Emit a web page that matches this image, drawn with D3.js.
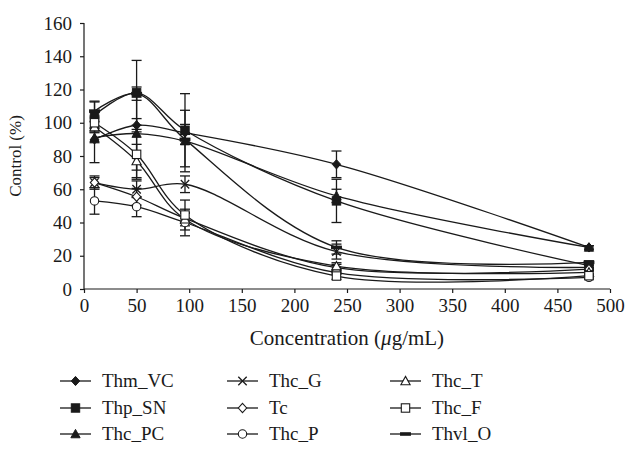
<!DOCTYPE html>
<html>
<head>
<meta charset="utf-8">
<script src="https://cdn.jsdelivr.net/npm/d3@7/dist/d3.min.js"></script>
<style>
  html, body { margin: 0; padding: 0; background: #fff; }
</style>
</head>
<body>
<svg id="chart" width="629" height="449"></svg>
<script>
// ---- data ----
const concentrations = [10, 50, 96, 240, 480];
const seriesNames = ["Thm_VC", "Thp_SN", "Thc_PC", "Thc_G", "Tc", "Thc_P", "Thc_T", "Thc_F", "Thvl_O"];
const markerTypes = ["diamondFilled", "squareFilled", "triangleFilled", "cross", "diamondOpen", "circleOpen", "triangleOpen", "squareOpen", "dash"];
const thmVC  = [90, 98.5, 94, 75, 25];
const thpSN  = [104.5, 118, 95.5, 53, 14];
const thcPC  = [91, 93.5, 89, 56, 25];
const thcG   = [64, 60, 63, 22.5, 13];
const tc     = [64, 55.5, 42.5, 12.8, 12];
const thcP   = [53, 49.5, 40, 9.8, 7];
const thcT   = [97.5, 77, 42, 13.8, 10];
const thcF   = [100, 81, 44.5, 7.8, 8];
const thvlO  = [107, 117.5, 90, 25, 16];
const errVC  = [14, 4, 5, 8, 1];
const errSN  = [8, 19.5, 22, 13, 2];
const errPC  = [3, 22, 18.5, 4, 1];
const errG   = [4, 5, 5, 4.5, 1];
const errTc  = [3, 5, 3, 2, 1];
const errP   = [8, 6, 8, 1, 1];
const errT   = [3, 10, 4, 2, 1];
const errF   = [3, 15, 9, 2, 1];
const errO   = [6, 4, 3, 4, 1];
const yTicks = [0, 20, 40, 60, 80, 100, 120, 140, 160];
const xTicks = [0, 50, 100, 150, 200, 250, 300, 350, 400, 450, 500];

const seriesValues = [thmVC, thpSN, thcPC, thcG, tc, thcP, thcT, thcF, thvlO];
const seriesErrors = [errVC, errSN, errPC, errG, errTc, errP, errT, errF, errO];
const series = seriesNames.map((n, i) => ({
  name: n, marker: markerTypes[i],
  points: concentrations.map((c, j) => ({ x: c, y: seriesValues[i][j], e: seriesErrors[i][j] }))
}));

// ---- layout ----
const FONT = "'Liberation Serif', 'Times New Roman', 'DejaVu Serif', serif";
const svg = d3.select("#chart").attr("font-family", FONT);
const x = d3.scaleLinear().domain([0, 500]).range([84, 610]);
const y = d3.scaleLinear().domain([0, 160]).range([289, 23]);
const ink = "#1a1a1a";

// axes
const yAxis = svg.append("g").attr("transform", `translate(${x(0)},0)`)
  .call(d3.axisLeft(y).tickValues(yTicks).tickSize(4).tickPadding(8).tickFormat(d3.format("d")));
const xAxis = svg.append("g").attr("transform", `translate(0,${y(0)})`)
  .call(d3.axisBottom(x).tickValues(xTicks).tickSize(4).tickPadding(6).tickFormat(d3.format("d")));
[yAxis, xAxis].forEach(a => {
  a.attr("font-family", FONT).attr("font-size", 19);
  a.select(".domain").attr("stroke", ink).attr("stroke-width", 1.2);
  a.selectAll(".tick line").attr("stroke", ink).attr("stroke-width", 1.2);
  a.selectAll(".tick text").attr("fill", ink);
});
yAxis.select(".domain").attr("d", `M0,${y(160)}V${y(0)}`);
xAxis.select(".domain").attr("d", `M${x(0)},0H${x(500)}`);

// titles
svg.append("text").attr("x", 347).attr("y", 345).attr("text-anchor", "middle")
  .attr("font-size", 21).attr("fill", ink)
  .html('Concentration (<tspan font-style="italic">μ</tspan>g/mL)');
svg.append("text").attr("transform", "translate(21,156) rotate(-90)")
  .attr("text-anchor", "middle").attr("font-size", 17).attr("fill", ink).text("Control (%)");

// lines
const line = d3.line().x(d => x(d.x)).y(d => y(d.y)).curve(d3.curveCatmullRom.alpha(0.5));
const plot = svg.append("g");
plot.selectAll("path.series").data(series).join("path")
  .attr("class", "series").attr("d", d => line(d.points))
  .attr("fill", "none").attr("stroke", ink).attr("stroke-width", 1.3);

// error bars
series.forEach(s => {
  const g = plot.append("g");
  s.points.forEach(p => {
    if (!p.e) return;
    const x0 = x(p.x), y1 = y(p.y + p.e), y2 = y(p.y - p.e);
    g.append("line").attr("x1", x0).attr("x2", x0).attr("y1", y1).attr("y2", y2)
      .attr("stroke", ink).attr("stroke-width", 1.3);
    [y1, y2].forEach(yy => g.append("line").attr("x1", x0 - 5).attr("x2", x0 + 5)
      .attr("y1", yy).attr("y2", yy).attr("stroke", ink).attr("stroke-width", 1.3));
  });
});

// markers
function drawMarker(g, type, cx, cy) {
  const s = 4.2;
  const open = { fill: "#fff", stroke: ink, "stroke-width": 1.1 };
  const filled = { fill: ink, stroke: ink, "stroke-width": 1 };
  let el;
  switch (type) {
    case "diamondFilled": case "diamondOpen":
      el = g.append("path").attr("d", `M${cx},${cy - s * 1.1}L${cx + s},${cy}L${cx},${cy + s * 1.1}L${cx - s},${cy}Z`);
      Object.entries(type === "diamondFilled" ? filled : open).forEach(([k, v]) => el.attr(k, v));
      break;
    case "squareFilled": case "squareOpen":
      el = g.append("rect").attr("x", cx - s).attr("y", cy - s).attr("width", 2 * s).attr("height", 2 * s);
      Object.entries(type === "squareFilled" ? filled : open).forEach(([k, v]) => el.attr(k, v));
      break;
    case "triangleFilled": case "triangleOpen":
      el = g.append("path").attr("d", `M${cx},${cy - s * 1.1}L${cx + s * 1.1},${cy + s * 0.9}L${cx - s * 1.1},${cy + s * 0.9}Z`);
      Object.entries(type === "triangleFilled" ? filled : open).forEach(([k, v]) => el.attr(k, v));
      break;
    case "circleOpen":
      el = g.append("circle").attr("cx", cx).attr("cy", cy).attr("r", s);
      Object.entries(open).forEach(([k, v]) => el.attr(k, v));
      break;
    case "cross":
      g.append("path").attr("d", `M${cx - s},${cy - s}L${cx + s},${cy + s}M${cx - s},${cy + s}L${cx + s},${cy - s}`)
        .attr("stroke", ink).attr("stroke-width", 1.3).attr("fill", "none");
      break;
    case "dash":
      g.append("rect").attr("x", cx - s * 1.3).attr("y", cy - 1.8).attr("width", s * 2.6).attr("height", 3.6).attr("fill", ink);
      break;
  }
}
series.forEach(s => {
  const g = plot.append("g");
  s.points.forEach(p => drawMarker(g, s.marker, x(p.x), y(p.y)));
});

// legend
const legCols = [60, 227, 390];
const legRows = [381, 408, 434];
series.forEach((s, i) => {
  const col = Math.floor(i / 3), row = i % 3;
  const lx = legCols[col], ly = legRows[row];
  const g = svg.append("g");
  g.append("line").attr("x1", lx).attr("x2", lx + 31).attr("y1", ly).attr("y2", ly)
    .attr("stroke", ink).attr("stroke-width", 1.3);
  drawMarker(g, s.marker, lx + 15.5, ly);
  g.append("text").attr("x", lx + 42).attr("y", ly + 6).attr("font-size", 19).attr("fill", ink).text(s.name);
});
</script>
</body>
</html>
